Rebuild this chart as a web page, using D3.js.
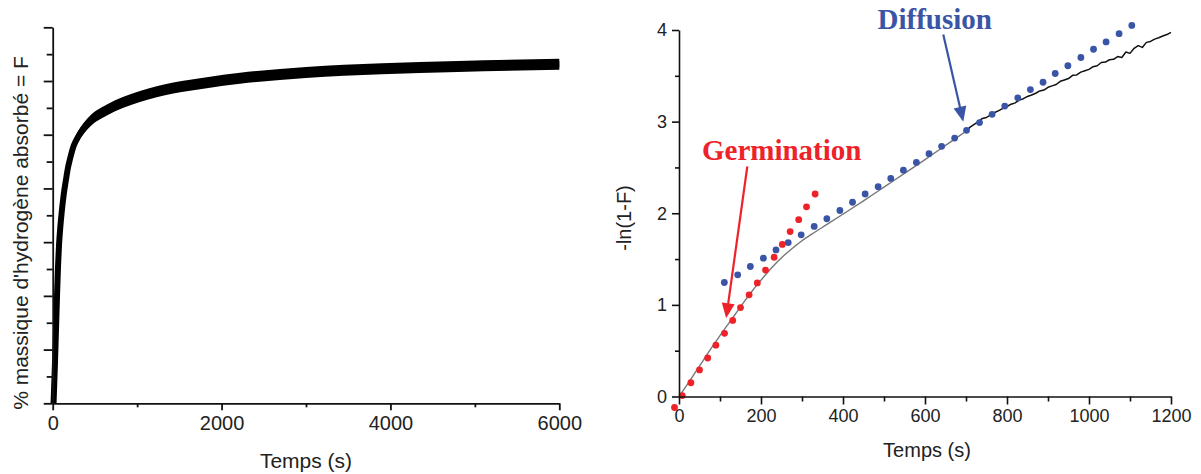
<!DOCTYPE html>
<html>
<head>
<meta charset="utf-8">
<script src="https://cdn.jsdelivr.net/npm/d3@7"></script>
<style>
  html, body { margin: 0; padding: 0; background: #fff; }
  svg { display: block; }
  .tick text { fill: #222; }
</style>
</head>
<body>
<svg id="chart" width="1201" height="474"></svg>
<script>
// ---------- Left panel data: absorbed hydrogen (wt%) vs time ----------
const absTime = [10, 27, 39, 51, 63, 75, 90, 106, 130, 157, 180, 205, 250, 304, 442, 641, 1034, 1429, 1824, 2218, 3000, 3900, 4800, 6000];
const absF    = [0, 0.75, 1.37, 1.99, 2.55, 2.95, 3.28, 3.55, 3.88, 4.16, 4.38, 4.55, 4.80, 4.97, 5.25, 5.46, 5.71, 5.87, 5.97, 6.05, 6.16, 6.23, 6.27, 6.31];
const leftXTicks = [0, 2000, 4000, 6000];
const leftXMinor = [1000, 3000, 5000];
const leftYTicks = [0, 1, 2, 3, 4, 5, 6, 7];
const leftYMinor = [0.5, 1.5, 2.5, 3.5, 4.5, 5.5, 6.5];
const leftXTitle = "Temps (s)";
const leftYTitle = "% massique d'hydrogène absorbé = F";

// ---------- Right panel data: -ln(1-F) vs time ----------
const expTimeSmooth = [0, 20, 40, 60, 80, 100, 120, 140, 160, 180, 200, 220, 240, 260, 280, 300, 330, 360, 400, 450, 500, 550, 600, 650, 700];
const expValSmooth  = [0, 0.13, 0.265, 0.40, 0.535, 0.665, 0.79, 0.915, 1.04, 1.16, 1.27, 1.375, 1.47, 1.555, 1.63, 1.70, 1.79, 1.875, 1.99, 2.135, 2.285, 2.435, 2.585, 2.74, 2.895];
const expTimeNoisy = [700, 710, 720, 730, 740, 750, 760, 770, 780, 790, 800, 810, 820, 830, 840, 850, 860, 870, 880, 890, 900, 910, 920, 930, 940, 950, 960, 970, 980, 990, 1000, 1010, 1020, 1030, 1040, 1050, 1060, 1070, 1080, 1090, 1100, 1110, 1120, 1130, 1140, 1150, 1160, 1170, 1180, 1190, 1200];
const expValNoisy  = [2.895, 2.94, 2.97, 3.00, 3.035, 3.045, 3.075, 3.10, 3.12, 3.145, 3.165, 3.19, 3.205, 3.235, 3.25, 3.275, 3.29, 3.31, 3.335, 3.345, 3.375, 3.39, 3.405, 3.44, 3.455, 3.47, 3.505, 3.51, 3.54, 3.555, 3.57, 3.60, 3.61, 3.645, 3.65, 3.675, 3.68, 3.71, 3.70, 3.76, 3.745, 3.80, 3.83, 3.81, 3.865, 3.875, 3.90, 3.915, 3.935, 3.95, 3.975];

const germTime = [-11, 8, 29, 50, 70, 90, 111, 131, 150, 171, 191, 211, 232, 252, 271, 292, 311, 332];
const germVal  = [-0.12, 0.01, 0.15, 0.29, 0.42, 0.56, 0.69, 0.83, 0.97, 1.11, 1.24, 1.38, 1.52, 1.66, 1.80, 1.93, 2.07, 2.21];

const diffTime = [110.6, 143.2, 174, 205.8, 236.6, 266.4, 298, 329.7, 360.6, 392.4, 423.2, 454, 485.7, 516.5, 547.3, 579, 609.8, 640.6, 672.3, 701.3, 733, 763.7, 794.5, 826.3, 857.1, 887.9, 917.6, 948.5, 980.2, 1011, 1041.7, 1073.4, 1104.4];
const diffVal  = [1.244, 1.328, 1.419, 1.51, 1.60, 1.68, 1.765, 1.856, 1.94, 2.03, 2.12, 2.21, 2.29, 2.38, 2.47, 2.555, 2.65, 2.73, 2.82, 2.905, 2.99, 3.08, 3.17, 3.26, 3.35, 3.43, 3.525, 3.61, 3.70, 3.79, 3.87, 3.96, 4.05];

const rightXTicks = [0, 200, 400, 600, 800, 1000, 1200];
const rightXMinor = [100, 300, 500, 700, 900, 1100];
const rightYTicks = [0, 1, 2, 3, 4];
const rightYMinor = [0.5, 1.5, 2.5, 3.5];
const rightXTitle = "Temps (s)";
const rightYTitle = "-ln(1-F)";

// annotations (data coordinates): label anchor, arrow start, arrow tip
const annoLabels = ["Germination", "Diffusion"];
const annoLabelT = [250.5, 623.7];
const annoLabelV = [2.585, 4.01];
const annoFromT  = [166.6, 644.6];
const annoFromV  = [2.51, 3.95];
const annoToT    = [115, 693.4];
const annoToV    = [0.855, 3.0];

// ---------- drawing ----------
const svg = d3.select("#chart");
const SANS = "'Liberation Sans', Arial, Helvetica, sans-serif";
const SERIF = "'Liberation Serif', 'Times New Roman', serif";
const RED = "#ee2229";
const BLUE = "#3a55a6";

// ===== Left panel =====
const xL = d3.scaleLinear().domain([0, 6000]).range([52.7, 559.3]);
const yL = d3.scaleLinear().domain([0, 7]).range([403.3, 27.3]);

const gL = svg.append("g");

function styleAxis(g, w) {
  g.selectAll(".domain").attr("stroke", "#111").attr("stroke-width", w);
  g.selectAll(".tick line").attr("stroke", "#111").attr("stroke-width", w);
}

// curve band
const absData = absTime.map((t, i) => ({ t, v: absF[i] }));
gL.append("path")
  .datum(absData)
  .attr("fill", "#000")
  .attr("d", d3.area()
    .x(d => xL(d.t))
    .y0(d => Math.min(yL(0), yL(d.v) + 5.5))
    .y1(d => yL(d.v) - 5.5)
    .curve(d3.curveMonotoneX));
gL.append("path")
  .datum(absData)
  .attr("fill", "none")
  .attr("stroke", "#000")
  .attr("stroke-width", 6)
  .attr("d", d3.line().x(d => xL(d.t)).y(d => yL(d.v)).curve(d3.curveMonotoneX));

// axes
const gLx = gL.append("g").attr("transform", `translate(0,${yL(0)})`)
  .call(d3.axisBottom(xL).tickValues(leftXTicks).tickSize(7).tickSizeOuter(0).tickPadding(6).tickFormat(d3.format("d")));
gLx.selectAll("text").attr("font-family", SANS).attr("font-size", 20);
styleAxis(gLx, 1.8);
const gLxm = gL.append("g").attr("transform", `translate(0,${yL(0)})`)
  .call(d3.axisBottom(xL).tickValues(leftXMinor).tickSize(4).tickFormat(""));
gLxm.select(".domain").remove();
styleAxis(gLxm, 1.8);

const gLy = gL.append("g").attr("transform", `translate(${xL(0)},0)`)
  .call(d3.axisLeft(yL).tickValues(leftYTicks).tickSize(9).tickSizeOuter(0).tickFormat(""));
styleAxis(gLy, 1.8);
const gLym = gL.append("g").attr("transform", `translate(${xL(0)},0)`)
  .call(d3.axisLeft(yL).tickValues(leftYMinor).tickSize(6).tickFormat(""));
gLym.select(".domain").remove();
styleAxis(gLym, 1.8);

gL.append("text")
  .attr("x", 306).attr("y", 468)
  .attr("text-anchor", "middle")
  .attr("font-family", SANS).attr("font-size", 21).attr("fill", "#222")
  .text(leftXTitle);
gL.append("text")
  .attr("transform", "translate(28,233) rotate(-90)")
  .attr("text-anchor", "middle")
  .attr("font-family", SANS).attr("font-size", 21).attr("fill", "#222")
  .text(leftYTitle);

// ===== Right panel =====
const xR = d3.scaleLinear().domain([0, 1200]).range([679, 1171]);
const yR = d3.scaleLinear().domain([0, 4]).range([396.5, 30]);
const gR = svg.append("g");

gR.append("path")
  .datum(expTimeSmooth.map((t, i) => ({ t, v: expValSmooth[i] })))
  .attr("fill", "none").attr("stroke", "#777").attr("stroke-width", 1.4)
  .attr("d", d3.line().x(d => xR(d.t)).y(d => yR(d.v)).curve(d3.curveMonotoneX));
gR.append("path")
  .datum(expTimeNoisy.map((t, i) => ({ t, v: expValNoisy[i] })))
  .attr("fill", "none").attr("stroke", "#111").attr("stroke-width", 1.5)
  .attr("stroke-linejoin", "round")
  .attr("d", d3.line().x(d => xR(d.t)).y(d => yR(d.v)));

gR.append("g").selectAll("circle")
  .data(diffTime.map((t, i) => ({ t, v: diffVal[i] })))
  .join("circle")
  .attr("cx", d => xR(d.t)).attr("cy", d => yR(d.v)).attr("r", 3.4)
  .attr("fill", BLUE);
gR.append("g").selectAll("circle")
  .data(germTime.map((t, i) => ({ t, v: germVal[i] })))
  .join("circle")
  .attr("cx", d => xR(d.t)).attr("cy", d => yR(d.v)).attr("r", 3.4)
  .attr("fill", RED);

// axes
const gRx = gR.append("g").attr("transform", `translate(0,${yR(0)})`)
  .call(d3.axisBottom(xR).tickValues(rightXTicks).tickSize(8).tickSizeOuter(0).tickPadding(5).tickFormat(d3.format("d")));
gRx.selectAll("text").attr("font-family", SANS).attr("font-size", 18);
styleAxis(gRx, 1.6);
const gRxm = gR.append("g").attr("transform", `translate(0,${yR(0)})`)
  .call(d3.axisBottom(xR).tickValues(rightXMinor).tickSize(5).tickFormat(""));
gRxm.select(".domain").remove();
styleAxis(gRxm, 1.6);

const gRy = gR.append("g").attr("transform", `translate(${xR(0)},0)`)
  .call(d3.axisLeft(yR).tickValues(rightYTicks).tickSize(7).tickSizeOuter(0).tickPadding(5).tickFormat(d3.format("d")));
gRy.selectAll("text").attr("font-family", SANS).attr("font-size", 18);
styleAxis(gRy, 1.6);
const gRym = gR.append("g").attr("transform", `translate(${xR(0)},0)`)
  .call(d3.axisLeft(yR).tickValues(rightYMinor).tickSize(4).tickFormat(""));
gRym.select(".domain").remove();
styleAxis(gRym, 1.6);

gR.append("text")
  .attr("x", 927).attr("y", 457)
  .attr("text-anchor", "middle")
  .attr("font-family", SANS).attr("font-size", 20).attr("fill", "#222")
  .text(rightXTitle);
gR.append("text")
  .attr("transform", "translate(631,218) rotate(-90)")
  .attr("text-anchor", "middle")
  .attr("font-family", SANS).attr("font-size", 20).attr("fill", "#222")
  .text(rightYTitle);

// annotations
const annoColors = [RED, BLUE];
annoLabels.forEach((lab, i) => {
  const col = annoColors[i];
  gR.append("text")
    .attr("x", xR(annoLabelT[i])).attr("y", yR(annoLabelV[i]))
    .attr("text-anchor", "middle")
    .attr("font-family", SERIF).attr("font-weight", "bold").attr("font-size", 29)
    .attr("fill", col)
    .text(lab);
  const x1 = xR(annoFromT[i]), y1 = yR(annoFromV[i]);
  const x2 = xR(annoToT[i]), y2 = yR(annoToV[i]);
  const dx = x2 - x1, dy = y2 - y1, L = Math.hypot(dx, dy);
  const ux = dx / L, uy = dy / L;
  const headL = 15, headW = 6.5;
  const bx = x2 - ux * headL, by = y2 - uy * headL;
  gR.append("line")
    .attr("x1", x1).attr("y1", y1).attr("x2", bx + ux * 2).attr("y2", by + uy * 2)
    .attr("stroke", col).attr("stroke-width", 2.2);
  gR.append("path")
    .attr("d", `M${x2},${y2}L${bx - uy * headW},${by + ux * headW}L${bx + uy * headW},${by - ux * headW}Z`)
    .attr("fill", col);
});
</script>
</body>
</html>
